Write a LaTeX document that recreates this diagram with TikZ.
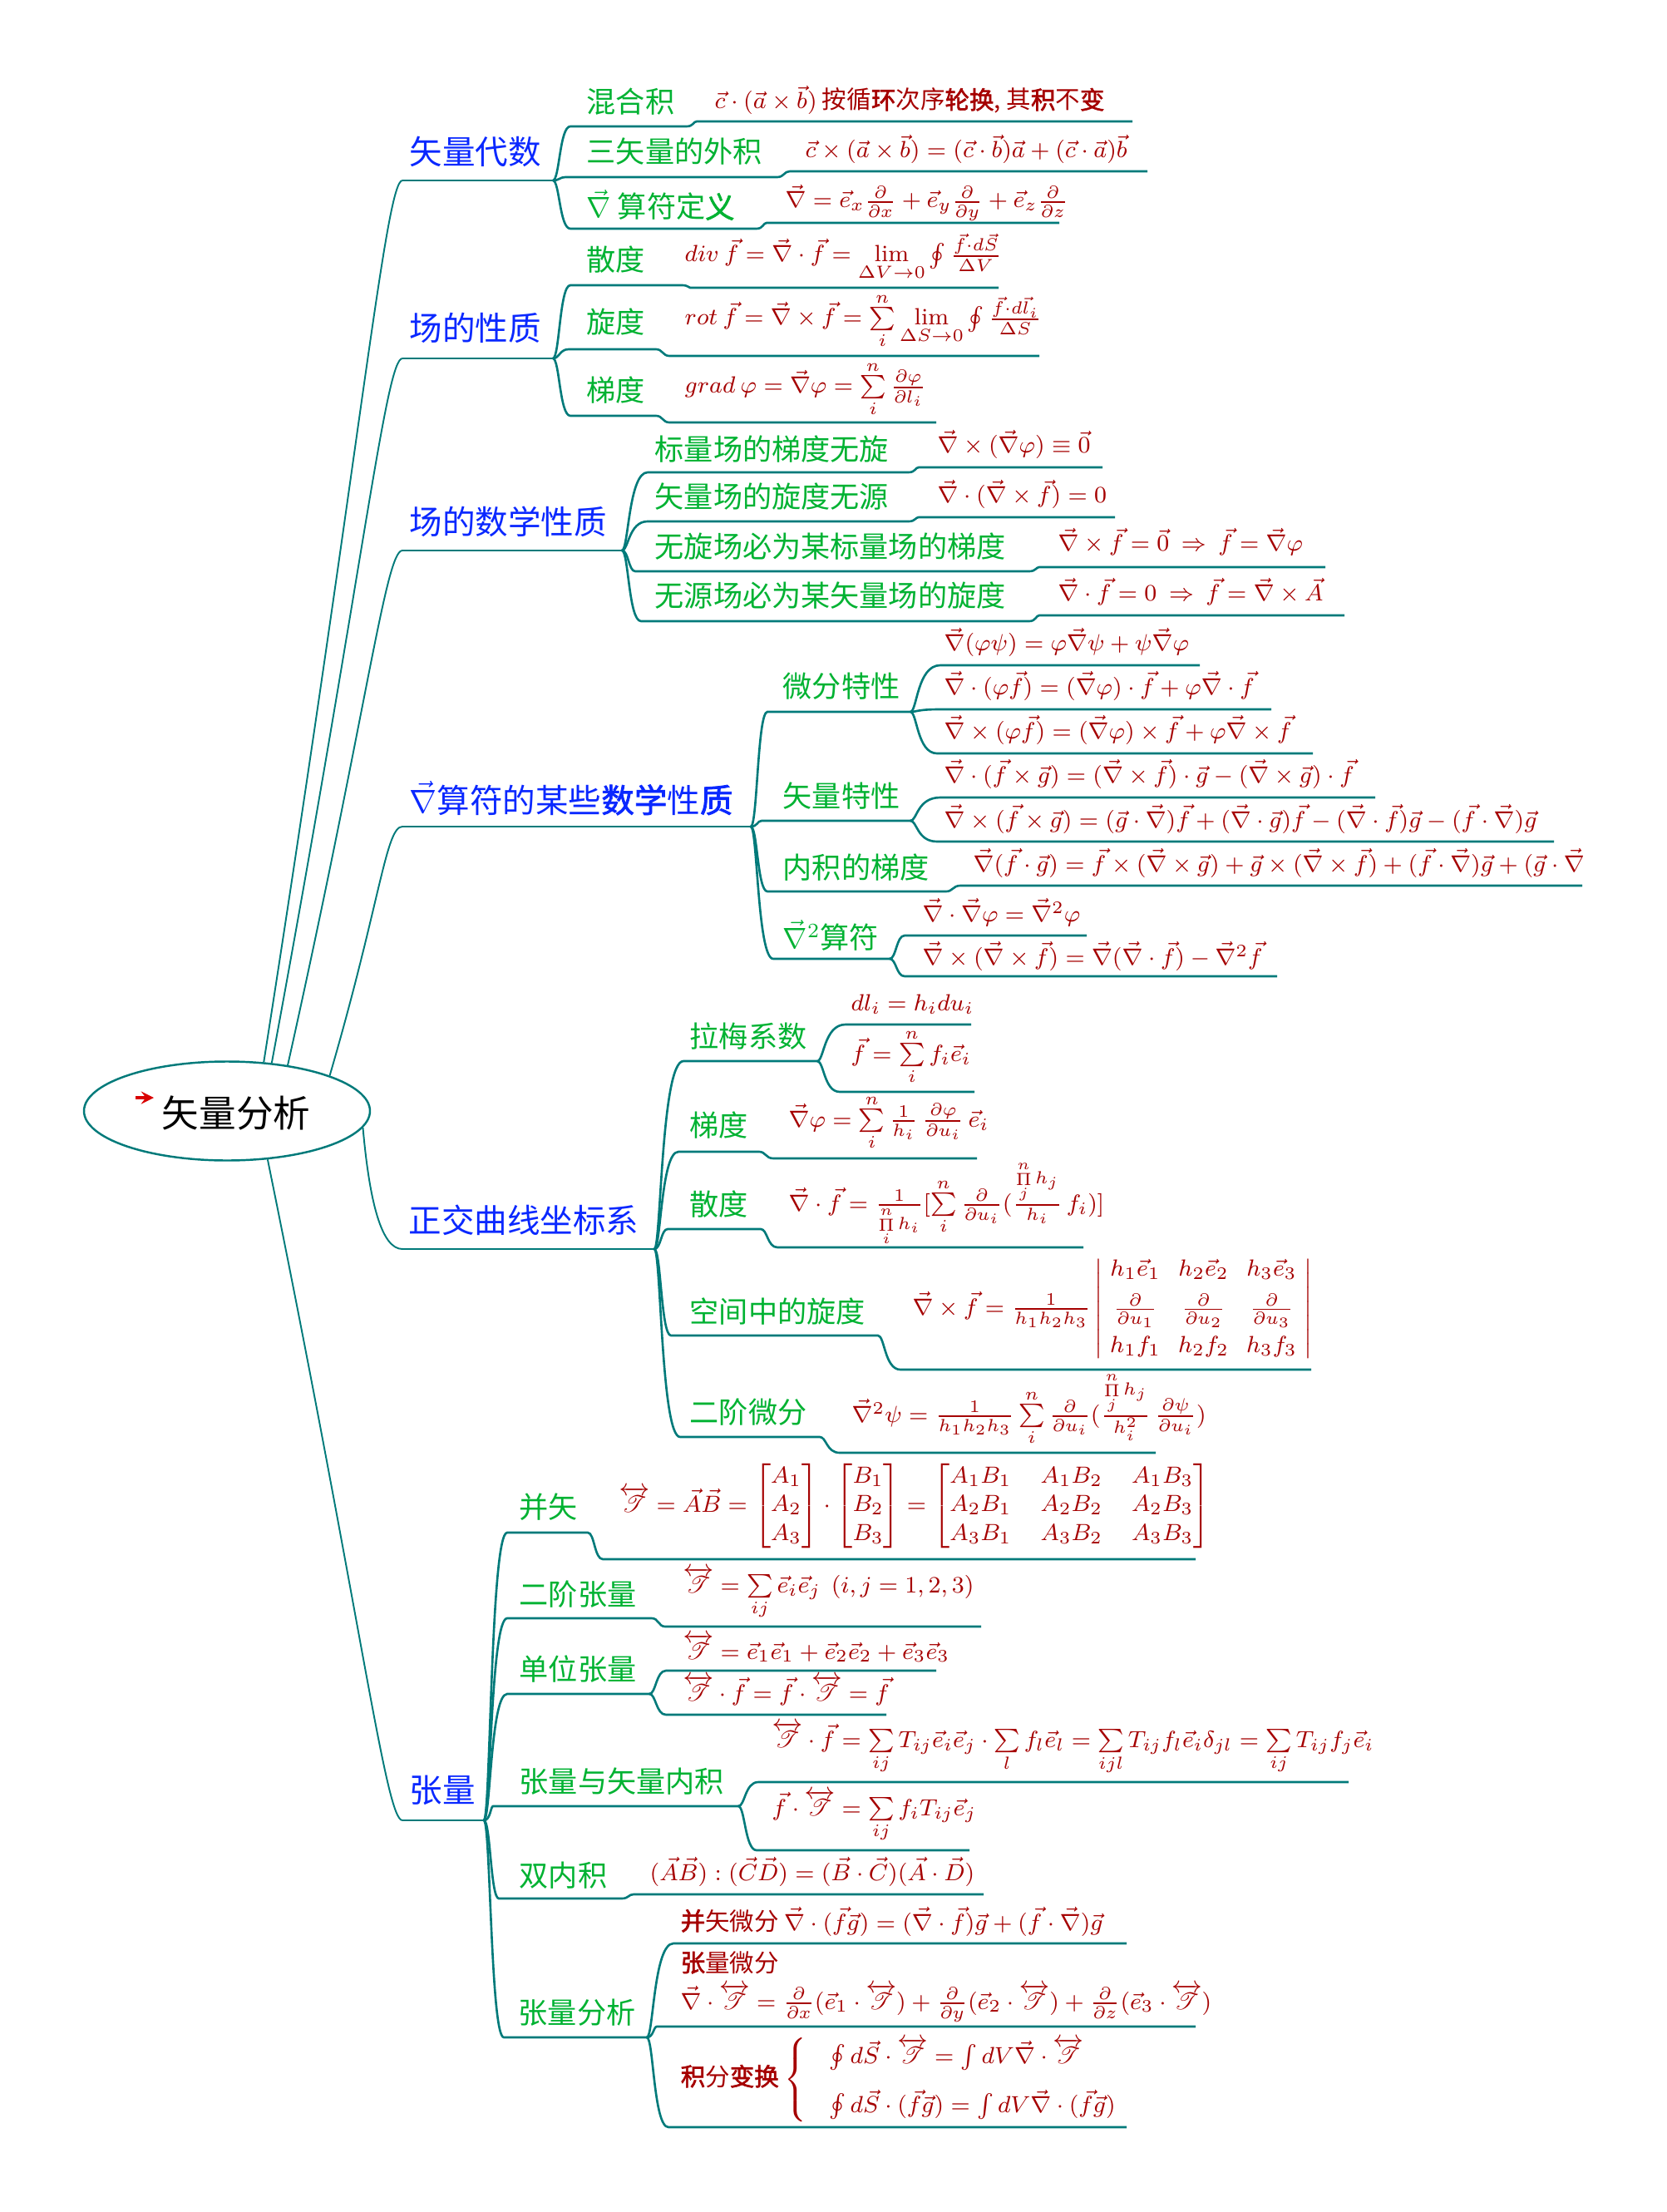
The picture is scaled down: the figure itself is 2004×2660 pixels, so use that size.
\RequirePackage{fix-cm}
\documentclass[tikz,border=0pt]{standalone}
\usepackage{amsmath,mathrsfs}
\usepackage{fontspec}
\newfontfamily\cjk{Noto Sans CJK SC}
\newfontfamily\cjkb{Noto Sans CJK SC}[FakeBold=2]
\usetikzlibrary{calc,shapes.geometric}
\definecolor{linec}{RGB}{0,122,122}
\definecolor{onec}{RGB}{10,40,255}
\definecolor{twoc}{RGB}{0,178,50}
\definecolor{formc}{RGB}{165,0,0}
\newcommand\Tdyad{\overleftrightarrow{\mathscr{T}}}
\newcommand\hanzi{\fontsize{8.4}{10}\selectfont}
\begin{document}
\begin{tikzpicture}[x=0.1mm, y=-0.1mm, >=stealth,
    lvone/.style={font=\cjk\fontsize{11.25}{13.5}\selectfont, text=onec, anchor=base west, inner sep=0pt},
    lvtwo/.style={font=\cjk\fontsize{10}{12}\selectfont, text=twoc, anchor=base west, inner sep=0pt},
    formula/.style={font=\cjk\fontsize{8}{9.8}\selectfont, text=formc, anchor=base west, inner sep=0pt},
    uline/.style={draw=linec, line width=0.75pt},
    rootline/.style={draw=linec, line width=0.55pt},
    branch/.style={to path={.. controls ($(\tikztostart)+(8,0)$) and ($(\tikztostart |- \tikztotarget)+(8,0)$) .. (\tikztotarget)}},
    rootlink/.style={to path={.. controls ($(\tikztostart)!0.7!(\tikztotarget)$) and ($(\tikztotarget)+(-20,0)$) .. (\tikztotarget)}}]
    \useasboundingbox (0,0) rectangle (2004,2660);

    \node[ellipse, draw=linec, line width=0.7pt, minimum width=34.4mm, minimum height=11.9mm] (root) at (273,1336) {};
    \node[font=\cjk\fontsize{12.7}{15}\selectfont] (roottext) at (284,1338) {矢量分析};
    \coordinate (mark-a) at (163,1320);
    \coordinate (mark-b) at (185,1320);
    \draw[->, red!85!black, line width=0.9pt] (mark-a) -- (mark-b);

    \node[lvone] (va) at (492,198) {矢量代数};
    \node[lvone] (cx) at (492,410) {场的性质};
    \node[lvone] (cs) at (492,643) {场的数学性质};
    \node[lvone] (nb) at (492,977) {$\vec\nabla$算符的某些{\cjkb 数学}性{\cjkb 质}};
    \node[lvone] (zj) at (491,1482) {正交曲线坐标系};
    \node[lvone] (zl) at (492,2167) {张量};
    \coordinate (va-l) at (484,217);  \coordinate (va-r) at (665,217);
    \coordinate (cx-l) at (484,431);  \coordinate (cx-r) at (665,431);
    \coordinate (cs-l) at (484,662);  \coordinate (cs-r) at (748,662);
    \coordinate (nb-l) at (484,994);  \coordinate (nb-r) at (903,994);
    \coordinate (zj-l) at (484,1502); \coordinate (zj-r) at (787,1502);
    \coordinate (zl-l) at (484,2189); \coordinate (zl-r) at (582,2189);
    \draw[rootline] (root.53) to[rootlink] (va-l);
    \draw[rootline] (root.47) to[rootlink] (cx-l);
    \draw[rootline] (root.37) to[rootlink] (cs-l);
    \draw[rootline] (root.19) to[rootlink] (nb-l);
    \draw[rootline] (root.-7) .. controls +(8,90) and +(-25,0) .. (zj-l);
    \draw[rootline] (root.-50) to[rootlink] (zl-l);
    \draw[uline] (va-l) -- (va-r);
    \draw[uline] (cx-l) -- (cx-r);
    \draw[uline] (cs-l) -- (cs-r);
    \draw[uline] (nb-l) -- (nb-r);
    \draw[uline] (zj-l) -- (zj-r);
    \draw[uline] (zl-l) -- (zl-r);

    \node[lvtwo] (a1) at (705,136) {混合积};
    \node[formula] (a1f) at (859,131) {$\vec c\cdot(\vec a\times\vec b)$ {\hanzi 按循{\cjkb 环}次序{\cjkb 轮换}, 其{\cjkb 积}不{\cjkb 变}}};
    \node[lvtwo] (a2) at (705,196) {三矢量的外积};
    \node[formula] (a2f) at (968,190) {$\vec c\times(\vec a\times\vec b)=(\vec c\cdot\vec b)\vec a+(\vec c\cdot\vec a)\vec b$};
    \node[lvtwo] (a3) at (705,262) {$\vec\nabla$\ 算符定{\cjkb 义}};
    \node[formula] (a3f) at (944,250) {$\vec\nabla=\vec e_x\frac{\partial}{\partial x}+\vec e_y\frac{\partial}{\partial y}+\vec e_z\frac{\partial}{\partial z}$};
    \coordinate (a1-l) at (686,152);  \coordinate (a1-r) at (826,152);
    \coordinate (a1f-l) at (838,146); \coordinate (a1f-r) at (1362,146);
    \coordinate (a2-l) at (680,213);  \coordinate (a2-r) at (935,213);
    \coordinate (a2f-l) at (950,206); \coordinate (a2f-r) at (1380,206);
    \coordinate (a3-l) at (686,275);  \coordinate (a3-r) at (910,275);
    \coordinate (a3f-l) at (922,268); \coordinate (a3f-r) at (1274,268);
    \draw[uline] (va-r) to[branch] (a1-l) -- (a1-r) to[branch] (a1f-l) -- (a1f-r);
    \draw[uline] (va-r) to[branch] (a2-l) -- (a2-r) to[branch] (a2f-l) -- (a2f-r);
    \draw[uline] (va-r) to[branch] (a3-l) -- (a3-r) to[branch] (a3f-l) -- (a3f-r);

    \node[lvtwo] (b1) at (705,326) {散度};
    \node[formula] (b1f) at (823,315) {$div\ \vec f=\vec\nabla\cdot\vec f=\lim\limits_{\Delta V\to0}\oint\frac{\vec f\cdot d\vec S}{\Delta V}$};
    \node[lvtwo] (b2) at (705,401) {旋度};
    \node[formula] (b2f) at (823,391) {$rot\ \vec f=\vec\nabla\times\vec f=\sum\limits_i^n\lim\limits_{\Delta S\to0}\oint\frac{\vec f\cdot d\vec l_i}{\Delta S}$};
    \node[lvtwo] (b3) at (705,483) {梯度};
    \node[formula] (b3f) at (823,473) {$grad\ \varphi=\vec\nabla\varphi=\sum\limits_i^n\frac{\partial\varphi}{\partial l_i}$};
    \coordinate (b1-l) at (686,343);  \coordinate (b1-r) at (820,343);
    \coordinate (b1f-l) at (830,346); \coordinate (b1f-r) at (1201,346);
    \coordinate (b2-l) at (684,420);  \coordinate (b2-r) at (789,420);
    \coordinate (b2f-l) at (805,428); \coordinate (b2f-r) at (1250,428);
    \coordinate (b3-l) at (686,500);  \coordinate (b3-r) at (789,500);
    \coordinate (b3f-l) at (805,508); \coordinate (b3f-r) at (1126,508);
    \draw[uline] (cx-r) to[branch] (b1-l) -- (b1-r) to[branch] (b1f-l) -- (b1f-r);
    \draw[uline] (cx-r) to[branch] (b2-l) -- (b2-r) to[branch] (b2f-l) -- (b2f-r);
    \draw[uline] (cx-r) to[branch] (b3-l) -- (b3-r) to[branch] (b3f-l) -- (b3f-r);

    \node[lvtwo] (c1) at (787,554) {标量场的梯度无旋};
    \node[formula] (c1f) at (1127,545) {$\vec\nabla\times(\vec\nabla\varphi)\equiv\vec 0$};
    \node[lvtwo] (c2) at (787,611) {矢量场的旋度无源};
    \node[formula] (c2f) at (1127,605) {$\vec\nabla\cdot(\vec\nabla\times\vec f)=0$};
    \node[lvtwo] (c3) at (787,671) {无旋场必为某标量场的梯度};
    \node[formula] (c3f) at (1272,663) {$\vec\nabla\times\vec f=\vec 0\ \Rightarrow\ \vec f=\vec\nabla\varphi$};
    \node[lvtwo] (c4) at (787,730) {无源场必为某矢量场的旋度};
    \node[formula] (c4f) at (1272,723) {$\vec\nabla\cdot\vec f=0\ \Rightarrow\ \vec f=\vec\nabla\times\vec A$};
    \coordinate (c1-l) at (779,568);   \coordinate (c1-r) at (1093,568);
    \coordinate (c1f-l) at (1105,562); \coordinate (c1f-r) at (1326,562);
    \coordinate (c2-l) at (779,627);   \coordinate (c2-r) at (1093,627);
    \coordinate (c2f-l) at (1105,622); \coordinate (c2f-r) at (1341,622);
    \coordinate (c3-l) at (764,687);   \coordinate (c3-r) at (1238,687);
    \coordinate (c3f-l) at (1250,682); \coordinate (c3f-r) at (1594,682);
    \coordinate (c4-l) at (771,747);   \coordinate (c4-r) at (1238,747);
    \coordinate (c4f-l) at (1250,740); \coordinate (c4f-r) at (1617,740);
    \draw[uline] (cs-r) to[branch] (c1-l) -- (c1-r) to[branch] (c1f-l) -- (c1f-r);
    \draw[uline] (cs-r) to[branch] (c2-l) -- (c2-r) to[branch] (c2f-l) -- (c2f-r);
    \draw[uline] (cs-r) to[branch] (c3-l) -- (c3-r) to[branch] (c3f-l) -- (c3f-r);
    \draw[uline] (cs-r) to[branch] (c4-l) -- (c4-r) to[branch] (c4f-l) -- (c4f-r);

    \node[lvtwo] (d1) at (941,839) {微分特性};
    \node[formula] (d11) at (1135,783) {$\vec\nabla(\varphi\psi)=\varphi\vec\nabla\psi+\psi\vec\nabla\varphi$};
    \node[formula] (d12) at (1135,835) {$\vec\nabla\cdot(\varphi\vec f)=(\vec\nabla\varphi)\cdot\vec f+\varphi\vec\nabla\cdot\vec f$};
    \node[formula] (d13) at (1135,888) {$\vec\nabla\times(\varphi\vec f)=(\vec\nabla\varphi)\times\vec f+\varphi\vec\nabla\times\vec f$};
    \node[lvtwo] (d2) at (941,970) {矢量特性};
    \node[formula] (d21) at (1135,941) {$\vec\nabla\cdot(\vec f\times\vec g)=(\vec\nabla\times\vec f)\cdot\vec g-(\vec\nabla\times\vec g)\cdot\vec f$};
    \node[formula] (d22) at (1135,995) {$\vec\nabla\times(\vec f\times\vec g)=(\vec g\cdot\vec\nabla)\vec f+(\vec\nabla\cdot\vec g)\vec f-(\vec\nabla\cdot\vec f)\vec g-(\vec f\cdot\vec\nabla)\vec g$};
    \node[lvtwo] (d3) at (941,1056) {内积的梯度};
    \begin{scope}
        \clip (1100,1000) rectangle (1903,1070);
        \node[formula] (d31) at (1170,1048) {$\vec\nabla(\vec f\cdot\vec g)=\vec f\times(\vec\nabla\times\vec g)+\vec g\times(\vec\nabla\times\vec f)+(\vec f\cdot\vec\nabla)\vec g+(\vec g\cdot\vec\nabla)\vec f$};
    \end{scope}
    \node[lvtwo] (d4) at (941,1140) {$\vec\nabla^2$算符};
    \node[formula] (d41) at (1109,1108) {$\vec\nabla\cdot\vec\nabla\varphi=\vec\nabla^2\varphi$};
    \node[formula] (d42) at (1109,1160) {$\vec\nabla\times(\vec\nabla\times\vec f)=\vec\nabla(\vec\nabla\cdot\vec f)-\vec\nabla^2\vec f$};
    \coordinate (d1-l) at (923,856);   \coordinate (d1-r) at (1095,856);
    \coordinate (d11-l) at (1131,800); \coordinate (d11-r) at (1443,800);
    \coordinate (d12-l) at (1131,853); \coordinate (d12-r) at (1529,853);
    \coordinate (d13-l) at (1127,906); \coordinate (d13-r) at (1579,906);
    \coordinate (d2-l) at (916,987);   \coordinate (d2-r) at (1095,987);
    \coordinate (d21-l) at (1131,959); \coordinate (d21-r) at (1654,959);
    \coordinate (d22-l) at (1127,1012); \coordinate (d22-r) at (1869,1012);
    \coordinate (d3-l) at (923,1072);  \coordinate (d3-r) at (1138,1072);
    \coordinate (d31-l) at (1155,1065); \coordinate (d31-r) at (1903,1065);
    \coordinate (d4-l) at (930,1153);  \coordinate (d4-r) at (1070,1153);
    \coordinate (d41-l) at (1088,1125); \coordinate (d41-r) at (1307,1125);
    \coordinate (d42-l) at (1088,1174); \coordinate (d42-r) at (1536,1174);
    \draw[uline] (nb-r) to[branch] (d1-l) -- (d1-r);
    \draw[uline] (d1-r) to[branch] (d11-l) -- (d11-r);
    \draw[uline] (d1-r) to[branch] (d12-l) -- (d12-r);
    \draw[uline] (d1-r) to[branch] (d13-l) -- (d13-r);
    \draw[uline] (nb-r) to[branch] (d2-l) -- (d2-r);
    \draw[uline] (d2-r) to[branch] (d21-l) -- (d21-r);
    \draw[uline] (d2-r) to[branch] (d22-l) -- (d22-r);
    \draw[uline] (nb-r) to[branch] (d3-l) -- (d3-r) to[branch] (d31-l) -- (d31-r);
    \draw[uline] (nb-r) to[branch] (d4-l) -- (d4-r);
    \draw[uline] (d4-r) to[branch] (d41-l) -- (d41-r);
    \draw[uline] (d4-r) to[branch] (d42-l) -- (d42-r);

    \node[lvtwo] (e1) at (829,1259) {拉梅系数};
    \node[formula] (e11) at (1023,1215) {$dl_i=h_idu_i$};
    \node[formula] (e12) at (1023,1276) {$\vec f=\sum\limits_i^n f_i\vec e_i$};
    \node[lvtwo] (e2) at (829,1366) {梯度};
    \node[formula] (e21) at (948,1355) {$\vec\nabla\varphi=\sum\limits_i^n\frac{1}{h_i}\,\frac{\partial\varphi}{\partial u_i}\,\vec e_i$};
    \node[lvtwo] (e3) at (829,1461) {散度};
    \node[formula] (e31) at (948,1456) {$\vec\nabla\cdot\vec f=\frac{1}{\mathop{\Pi}\limits_i^n h_i}[\sum\limits_i^n\frac{\partial}{\partial u_i}(\frac{\mathop{\Pi}\limits_j^n h_j}{h_i}\,f_i)]$};
    \node[lvtwo] (e4) at (829,1590) {空间中的旋度};
    \node[formula] (e41) at (1097,1581) {\setlength\arraycolsep{3pt}$\vec\nabla\times\vec f=\frac{1}{h_1h_2h_3}\left|\;\begin{matrix}h_1\vec e_1 & h_2\vec e_2 & h_3\vec e_3\\[3pt] \frac{\partial}{\partial u_1} & \frac{\partial}{\partial u_2} & \frac{\partial}{\partial u_3}\\[3pt] h_1f_1 & h_2f_2 & h_3f_3\end{matrix}\;\right|$};
    \node[lvtwo] (e5) at (829,1711) {二阶微分};
    \node[formula] (e51) at (1024,1710) {$\vec\nabla^2\psi=\frac{1}{h_1h_2h_3}\sum\limits_i^n\frac{\partial}{\partial u_i}(\frac{\mathop{\Pi}\limits_j^n h_j}{h_i^2}\,\frac{\partial\psi}{\partial u_i})$};
    \coordinate (e1-l) at (822,1276);   \coordinate (e1-r) at (983,1276);
    \coordinate (e11-l) at (1017,1232); \coordinate (e11-r) at (1168,1232);
    \coordinate (e12-l) at (1010,1313); \coordinate (e12-r) at (1172,1313);
    \coordinate (e2-l) at (816,1385);   \coordinate (e2-r) at (913,1385);
    \coordinate (e21-l) at (930,1393);  \coordinate (e21-r) at (1175,1393);
    \coordinate (e3-l) at (803,1478);   \coordinate (e3-r) at (915,1478);
    \coordinate (e31-l) at (935,1500);  \coordinate (e31-r) at (1303,1500);
    \coordinate (e4-l) at (807,1606);   \coordinate (e4-r) at (1056,1606);
    \coordinate (e41-l) at (1083,1647); \coordinate (e41-r) at (1577,1647);
    \coordinate (e5-l) at (818,1728);   \coordinate (e5-r) at (986,1728);
    \coordinate (e51-l) at (1010,1747); \coordinate (e51-r) at (1390,1747);
    \draw[uline] (zj-r) to[branch] (e1-l) -- (e1-r);
    \draw[uline] (e1-r) to[branch] (e11-l) -- (e11-r);
    \draw[uline] (e1-r) to[branch] (e12-l) -- (e12-r);
    \draw[uline] (zj-r) to[branch] (e2-l) -- (e2-r) to[branch] (e21-l) -- (e21-r);
    \draw[uline] (zj-r) to[branch] (e3-l) -- (e3-r) to[branch] (e31-l) -- (e31-r);
    \draw[uline] (zj-r) to[branch] (e4-l) -- (e4-r) to[branch] (e41-l) -- (e41-r);
    \draw[uline] (zj-r) to[branch] (e5-l) -- (e5-r) to[branch] (e51-l) -- (e51-r);

    \node[lvtwo] (f1) at (624,1825) {并矢};
    \node[formula] (f11) at (744,1818) {$\Tdyad=\vec A\vec B=\begin{bmatrix}A_1\\A_2\\A_3\end{bmatrix}\cdot\begin{bmatrix}B_1\\B_2\\B_3\end{bmatrix}=\begin{bmatrix}A_1B_1&A_1B_2&A_1B_3\\A_2B_1&A_2B_2&A_2B_3\\A_3B_1&A_3B_2&A_3B_3\end{bmatrix}$};
    \node[lvtwo] (f2) at (624,1930) {二阶张量};
    \node[formula] (f21) at (821,1915) {$\Tdyad=\sum\limits_{ij}\vec e_i\vec e_j\ \ (i,j=1,2,3)$};
    \node[lvtwo] (f3) at (624,2020) {单位张量};
    \node[formula] (f31) at (821,1995) {$\Tdyad=\vec e_1\vec e_1+\vec e_2\vec e_2+\vec e_3\vec e_3$};
    \node[formula] (f32) at (821,2045) {$\Tdyad\cdot\vec f=\vec f\cdot\Tdyad=\vec f$};
    \node[lvtwo] (f4) at (624,2155) {张量与矢量内积};
    \node[formula] (f41) at (928,2101) {$\Tdyad\cdot\vec f=\sum\limits_{ij}T_{ij}\vec e_i\vec e_j\cdot\sum\limits_l f_l\vec e_l=\sum\limits_{ijl}T_{ij}f_l\vec e_i\delta_{jl}=\sum\limits_{ij}T_{ij}f_j\vec e_i$};
    \node[formula] (f42) at (928,2183) {$\vec f\cdot\Tdyad=\sum\limits_{ij}f_iT_{ij}\vec e_j$};
    \node[lvtwo] (f5) at (624,2268) {双内积};
    \node[formula] (f51) at (781,2261) {$(\vec A\vec B):(\vec C\vec D)=(\vec B\cdot\vec C)(\vec A\cdot\vec D)$};
    \node[lvtwo] (f6) at (623,2433) {张量分析};
    \node[formula] (f61) at (818,2321) {{\hanzi{\cjkb 并}矢微分} $\vec\nabla\cdot(\vec f\vec g)=(\vec\nabla\cdot\vec f)\vec g+(\vec f\cdot\vec\nabla)\vec g$};
    \node[formula] (f62) at (818,2371) {{\hanzi{\cjkb 张}量微分}};
    \node[formula] (f62b) at (818,2416) {$\vec\nabla\cdot\Tdyad=\frac{\partial}{\partial x}(\vec e_1\cdot\Tdyad)+\frac{\partial}{\partial y}(\vec e_2\cdot\Tdyad)+\frac{\partial}{\partial z}(\vec e_3\cdot\Tdyad)$};
    \node[formula] (f63) at (818,2508) {{\hanzi{\cjkb 积}分{\cjkb 变换}} $\left\{\quad\begin{array}{@{}l@{}}\oint d\vec S\cdot\Tdyad=\int dV\vec\nabla\cdot\Tdyad\\[6pt] \oint d\vec S\cdot(\vec f\vec g)=\int dV\vec\nabla\cdot(\vec f\vec g)\end{array}\right.$};
    \coordinate (f1-l) at (610,1843);   \coordinate (f1-r) at (707,1843);
    \coordinate (f11-l) at (725,1875);  \coordinate (f11-r) at (1438,1875);
    \coordinate (f2-l) at (610,1946);   \coordinate (f2-r) at (784,1946);
    \coordinate (f21-l) at (800,1956);  \coordinate (f21-r) at (1180,1956);
    \coordinate (f3-l) at (610,2037);   \coordinate (f3-r) at (781,2037);
    \coordinate (f31-l) at (801,2009);  \coordinate (f31-r) at (1126,2009);
    \coordinate (f32-l) at (801,2062);  \coordinate (f32-r) at (1066,2062);
    \coordinate (f4-l) at (593,2172);   \coordinate (f4-r) at (888,2172);
    \coordinate (f41-l) at (912,2143);  \coordinate (f41-r) at (1622,2143);
    \coordinate (f42-l) at (910,2225);  \coordinate (f42-r) at (1166,2225);
    \coordinate (f5-l) at (600,2283);   \coordinate (f5-r) at (748,2283);
    \coordinate (f51-l) at (762,2278);  \coordinate (f51-r) at (1183,2278);
    \coordinate (f6-l) at (606,2450);   \coordinate (f6-r) at (778,2450);
    \coordinate (f61-l) at (810,2337);  \coordinate (f61-r) at (1355,2337);
    \coordinate (f62-l) at (790,2437);  \coordinate (f62-r) at (1438,2437);
    \coordinate (f63-l) at (804,2558);  \coordinate (f63-r) at (1355,2558);
    \draw[uline] (zl-r) to[branch] (f1-l) -- (f1-r) to[branch] (f11-l) -- (f11-r);
    \draw[uline] (zl-r) to[branch] (f2-l) -- (f2-r) to[branch] (f21-l) -- (f21-r);
    \draw[uline] (zl-r) to[branch] (f3-l) -- (f3-r);
    \draw[uline] (f3-r) to[branch] (f31-l) -- (f31-r);
    \draw[uline] (f3-r) to[branch] (f32-l) -- (f32-r);
    \draw[uline] (zl-r) to[branch] (f4-l) -- (f4-r);
    \draw[uline] (f4-r) to[branch] (f41-l) -- (f41-r);
    \draw[uline] (f4-r) to[branch] (f42-l) -- (f42-r);
    \draw[uline] (zl-r) to[branch] (f5-l) -- (f5-r) to[branch] (f51-l) -- (f51-r);
    \draw[uline] (zl-r) to[branch] (f6-l) -- (f6-r);
    \draw[uline] (f6-r) to[branch] (f61-l) -- (f61-r);
    \draw[uline] (f6-r) to[branch] (f62-l) -- (f62-r);
    \draw[uline] (f6-r) to[branch] (f63-l) -- (f63-r);
\end{tikzpicture}
\end{document}
